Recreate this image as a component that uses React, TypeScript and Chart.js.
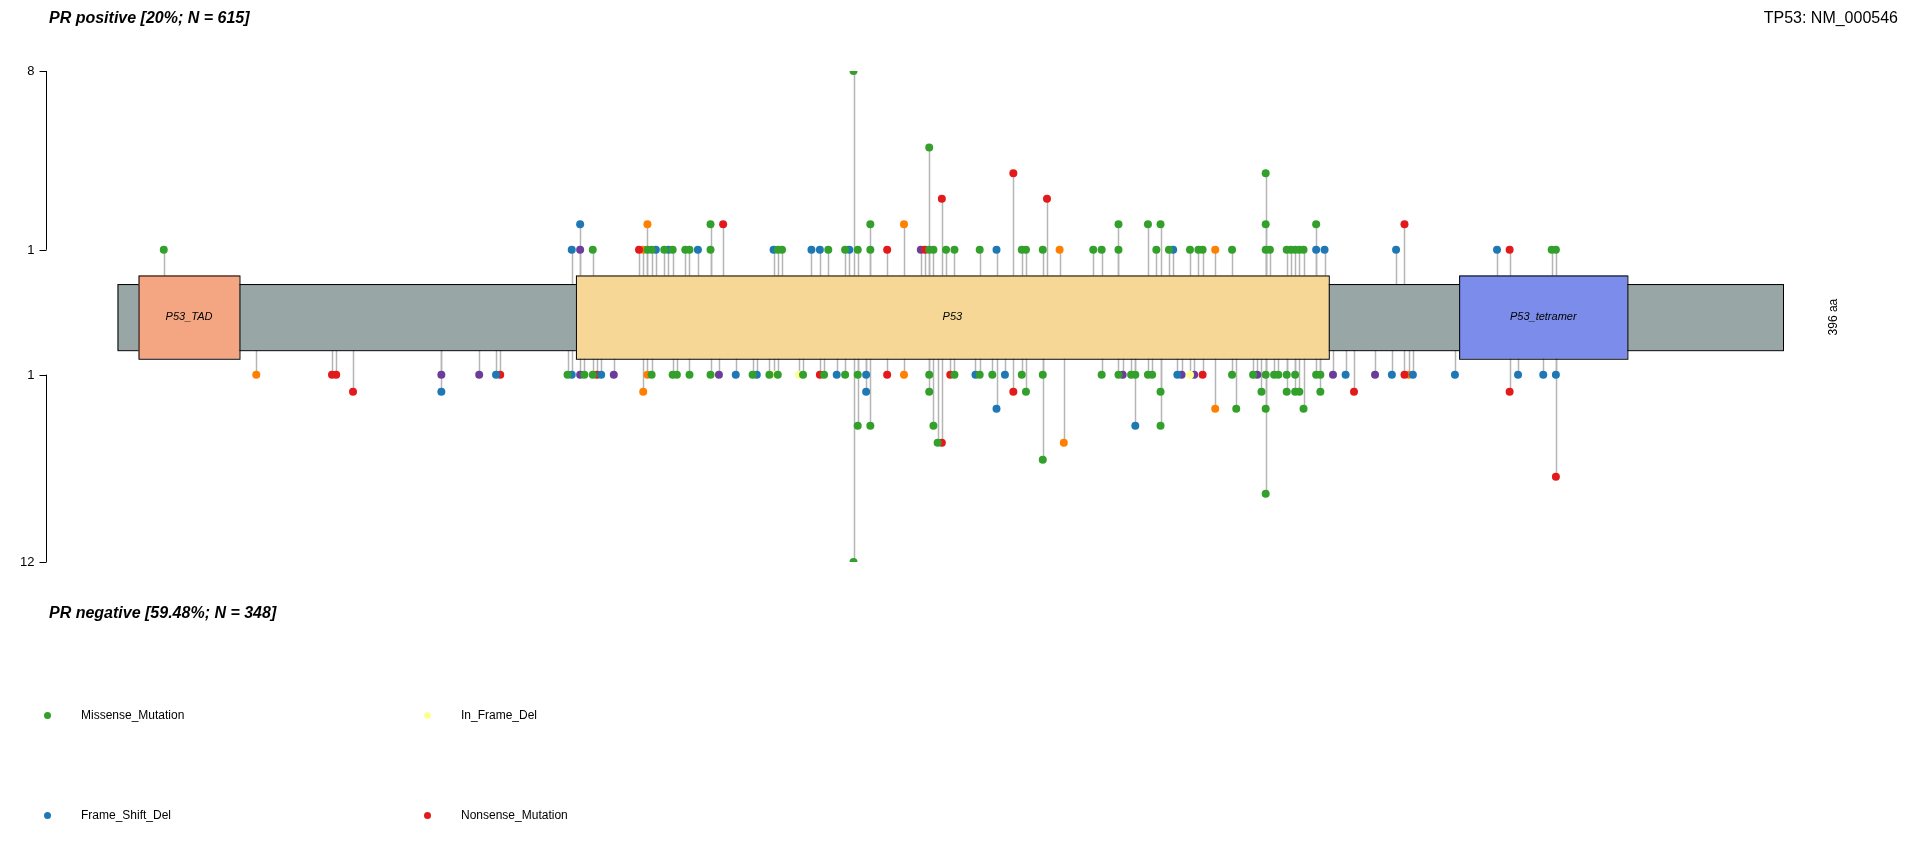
import { Chart, registerables } from "chart.js"
import { useEffect, useRef } from "react"

Chart.register(...registerables)

// [aa position, count, type]
type Hit = [number, number, string]

const TYPE_COLORS: Record<string, string> = {
	Missense_Mutation: "#33A02C",
	Frame_Shift_Del: "#1F78B4",
	In_Frame_Del: "#FFFF99",
	Nonsense_Mutation: "#E31A1C",
	Frame_Shift_Ins: "#6A3D9A",
	Splice_Site: "#FF7F00",
}
const LEGEND_TYPES = ["Missense_Mutation", "In_Frame_Del", "Frame_Shift_Del", "Nonsense_Mutation"]

const G = "Missense_Mutation", B = "Frame_Shift_Del", Y = "In_Frame_Del", R = "Nonsense_Mutation", P = "Frame_Shift_Ins", O = "Splice_Site"

const PROTEIN_LENGTH = 396
const DOMAINS: [string, number, number, string][] = [
	["P53_TAD", 5, 29, "#F4A582"],
	["P53", 109, 288, "#F6D796"],
	["P53_tetramer", 319, 359, "#7B8CEB"],
]

const TOP_TICKS = [1, 8]
const BOTTOM_TICKS = [1, 12]

const POSITIVE: Hit[] = [
	[11, 1, G], [108, 1, B], [110, 1, P], [110, 2, B], [113, 1, G], [124, 1, R], [125, 1, O], [126, 1, G], [126, 2, O],
	[127, 1, G], [128, 1, B], [130, 1, G], [131, 1, B], [132, 1, G], [135, 1, G], [136, 1, G], [138, 1, B], [141, 1, G],
	[141, 2, G], [144, 2, R], [156, 1, B], [157, 1, G], [158, 1, G], [165, 1, B], [167, 1, B], [169, 1, G], [173, 1, G],
	[174, 1, B], [175, 8, G], [176, 1, G], [179, 1, G], [179, 2, G], [183, 1, R], [187, 2, O], [191, 1, P], [192, 1, R],
	[193, 1, G], [193, 5, G], [194, 1, G], [196, 3, R], [197, 1, G], [199, 1, G], [205, 1, G], [209, 1, B], [213, 4, R],
	[215, 1, G], [216, 1, G], [220, 1, G], [221, 3, R], [224, 1, O], [232, 1, G], [234, 1, G], [238, 1, G], [238, 2, G],
	[245, 2, G], [247, 1, G], [248, 2, G], [250, 1, G], [251, 1, B], [255, 1, G], [257, 1, G], [258, 1, G], [261, 1, O],
	[265, 1, G], [273, 1, G], [273, 2, G], [273, 4, G], [274, 1, G], [278, 1, G], [279, 1, G], [280, 1, G], [281, 1, G],
	[282, 1, G], [285, 1, B], [285, 2, G], [287, 1, B], [304, 1, B], [306, 2, R], [328, 1, B], [331, 1, R], [341, 1, G],
	[342, 1, G],
]

const NEGATIVE: Hit[] = [
	[33, 1, O], [51, 1, R], [52, 1, R], [56, 2, R], [77, 1, P], [77, 2, B], [86, 1, P], [90, 1, B], [91, 1, R],
	[107, 1, G], [108, 1, B], [110, 1, P], [111, 1, G], [113, 1, G], [114, 1, R], [115, 1, B], [118, 1, P], [125, 2, O],
	[126, 1, O], [127, 1, G], [132, 1, G], [133, 1, G], [136, 1, G], [141, 1, G], [143, 1, P], [147, 1, B], [151, 1, G],
	[152, 1, B], [155, 1, G], [156, 1, Y], [157, 1, G], [162, 1, Y], [163, 1, G], [167, 1, R], [168, 1, G], [171, 1, B],
	[173, 1, G], [175, 12, G], [176, 1, G], [176, 4, G], [178, 1, B], [178, 2, B], [179, 4, G], [183, 1, R], [187, 1, O],
	[193, 1, G], [193, 2, G], [194, 4, G], [195, 5, G], [196, 5, R], [198, 1, R], [199, 1, G], [204, 1, B], [205, 1, G],
	[208, 1, G], [209, 3, B], [211, 1, B], [213, 2, R], [215, 1, G], [216, 2, G], [220, 1, G], [220, 6, G], [225, 5, O],
	[234, 1, G], [238, 1, G], [239, 1, P], [241, 1, G], [242, 1, G], [242, 4, B], [245, 1, G], [246, 1, G], [248, 2, G],
	[248, 4, G], [252, 1, B], [253, 1, P], [255, 1, Y], [256, 1, P], [258, 1, R], [261, 3, O], [265, 1, G], [266, 3, G],
	[270, 1, G], [271, 1, P], [272, 2, G], [273, 1, G], [273, 3, G], [273, 8, G], [275, 1, G], [276, 1, G], [278, 1, G],
	[278, 2, G], [280, 1, G], [280, 2, G], [281, 2, G], [282, 3, G], [285, 1, G], [286, 1, G], [286, 2, G], [289, 1, P],
	[292, 1, B], [294, 2, R], [299, 1, P], [303, 1, B], [306, 1, R], [307, 1, O], [308, 1, B], [318, 1, B], [331, 2, R],
	[333, 1, B], [339, 1, B], [342, 1, B], [342, 7, R],
]

// vertical layout (scale units): gene bar +-27, domains +-34
const topY = (n: number) => 55 + (n - 1) * 20.86
const botY = (n: number) => -47 - (n - 1) * 13.9
const FONT = '"Liberation Sans", Arial, sans-serif'

const lollipopPlugin = {
	id: "lollipop",
	beforeDatasetsDraw(chart: any) {
		const { ctx, scales } = chart
		const x = scales.x, y = scales.y
		ctx.save()
		// stems
		ctx.strokeStyle = "#b5b5b5"
		ctx.lineWidth = 1.5
		const stems = (hits: Hit[], f: (n: number) => number, base: number) => {
			hits.forEach(([aa, n]) => {
				const px = Math.round(x.getPixelForValue(aa)) + 0.5
				ctx.beginPath()
				ctx.moveTo(px, y.getPixelForValue(base))
				ctx.lineTo(px, y.getPixelForValue(f(n)))
				ctx.stroke()
			})
		}
		stems(POSITIVE, topY, 27)
		stems(NEGATIVE, botY, -27)
		// gene body
		ctx.fillStyle = "#98A6A6"
		ctx.strokeStyle = "#000"
		ctx.lineWidth = 1
		const gx0 = x.getPixelForValue(0), gx1 = x.getPixelForValue(PROTEIN_LENGTH)
		const gy0 = y.getPixelForValue(27), gy1 = y.getPixelForValue(-27)
		ctx.fillRect(gx0, gy0, gx1 - gx0, gy1 - gy0)
		ctx.strokeRect(gx0 + 0.5, gy0 + 0.5, gx1 - gx0, gy1 - gy0)
		DOMAINS.forEach(([name, s, e, col]) => {
			const a = x.getPixelForValue(s), b = x.getPixelForValue(e)
			const t = y.getPixelForValue(34), u = y.getPixelForValue(-34)
			ctx.fillStyle = col
			ctx.fillRect(a, t, b - a, u - t)
			ctx.strokeRect(a + 0.5, t + 0.5, b - a, u - t)
			ctx.fillStyle = "#000"
			ctx.font = `italic 11px ${FONT}`
			ctx.textAlign = "center"
			ctx.textBaseline = "middle"
			ctx.fillText(name, (a + b) / 2, y.getPixelForValue(0))
		})
		// length label
		ctx.save()
		ctx.translate(x.getPixelForValue(408), y.getPixelForValue(0))
		ctx.rotate(-Math.PI / 2)
		ctx.font = `12px ${FONT}`
		ctx.fillText(`${PROTEIN_LENGTH} aa`, 0, 0)
		ctx.restore()
		// y axes
		const ax = Math.round(chart.chartArea.left) + 0.5
		ctx.strokeStyle = "#000"
		ctx.font = `13px ${FONT}`
		ctx.textAlign = "right"
		const axis = (ticks: number[], f: (n: number) => number) => {
			ctx.beginPath()
			ctx.moveTo(ax, y.getPixelForValue(f(ticks[0])))
			ctx.lineTo(ax, y.getPixelForValue(f(ticks[1])))
			ctx.stroke()
			ticks.forEach((t) => {
				const py = Math.round(y.getPixelForValue(f(t))) + 0.5
				ctx.beginPath()
				ctx.moveTo(ax - 7, py)
				ctx.lineTo(ax, py)
				ctx.stroke()
				ctx.fillText(String(t), ax - 12, py)
			})
		}
		axis(TOP_TICKS, topY)
		axis(BOTTOM_TICKS, botY)
		ctx.restore()
	},
}

function makeSets() {
	const sets: any[] = []
	Object.keys(TYPE_COLORS).forEach((type) => {
		const pts = [
			...POSITIVE.filter((h) => h[2] === type).map(([aa, n]) => ({ x: aa, y: topY(n) })),
			...NEGATIVE.filter((h) => h[2] === type).map(([aa, n]) => ({ x: aa, y: botY(n) })),
		]
		sets.push({
			label: type,
			data: pts,
			backgroundColor: TYPE_COLORS[type],
			borderWidth: 0,
			pointRadius: 4,
		})
	})
	return sets
}

export default function App() {
	const canvasRef = useRef<HTMLCanvasElement>(null)
	const chartRef = useRef<Chart | null>(null)

	useEffect(() => {
		if (!canvasRef.current) return
		chartRef.current = new Chart(canvasRef.current, {
			type: "scatter",
			data: { datasets: makeSets() },
			options: {
				animation: false,
				responsive: false,
				layout: { padding: { left: 46, right: 137, top: 71, bottom: 306 } },
				plugins: { legend: { display: false }, tooltip: { enabled: false } },
				scales: {
					x: { type: "linear", min: -17, max: PROTEIN_LENGTH, display: false },
					y: { type: "linear", min: -200, max: 201, display: false },
				},
			},
			plugins: [lollipopPlugin],
		})
		return () => {
			chartRef.current?.destroy()
		}
	}, [])

	const title = { position: "absolute" as const, fontFamily: FONT, fontSize: 16, color: "#000" }
	return (
		<div style={{ position: "fixed", left: 0, top: 0, width: 1920, height: 868, background: "#fff", overflow: "hidden" }}>
			<canvas ref={canvasRef} width={1920} height={868} style={{ position: "absolute", left: 0, top: 0 }} />
			<div style={{ ...title, left: 49, top: 9, fontWeight: "bold", fontStyle: "italic" }}>PR positive [20%; N = 615]</div>
			<div style={{ ...title, right: 22, top: 9 }}>TP53: NM_000546</div>
			<div style={{ ...title, left: 49, top: 604, fontWeight: "bold", fontStyle: "italic" }}>PR negative [59.48%; N = 348]</div>
			{LEGEND_TYPES.map((t, i) => (
				<div
					key={t}
					style={{
						position: "absolute",
						left: i % 2 === 0 ? 44 : 424,
						top: i < 2 ? 708 : 808,
						display: "flex",
						alignItems: "center",
						fontFamily: FONT,
						fontSize: 12,
					}}
				>
					<span style={{ width: 7, height: 7, borderRadius: "50%", background: TYPE_COLORS[t], display: "inline-block", marginRight: 30 }} />
					{t}
				</div>
			))}
		</div>
	)
}
